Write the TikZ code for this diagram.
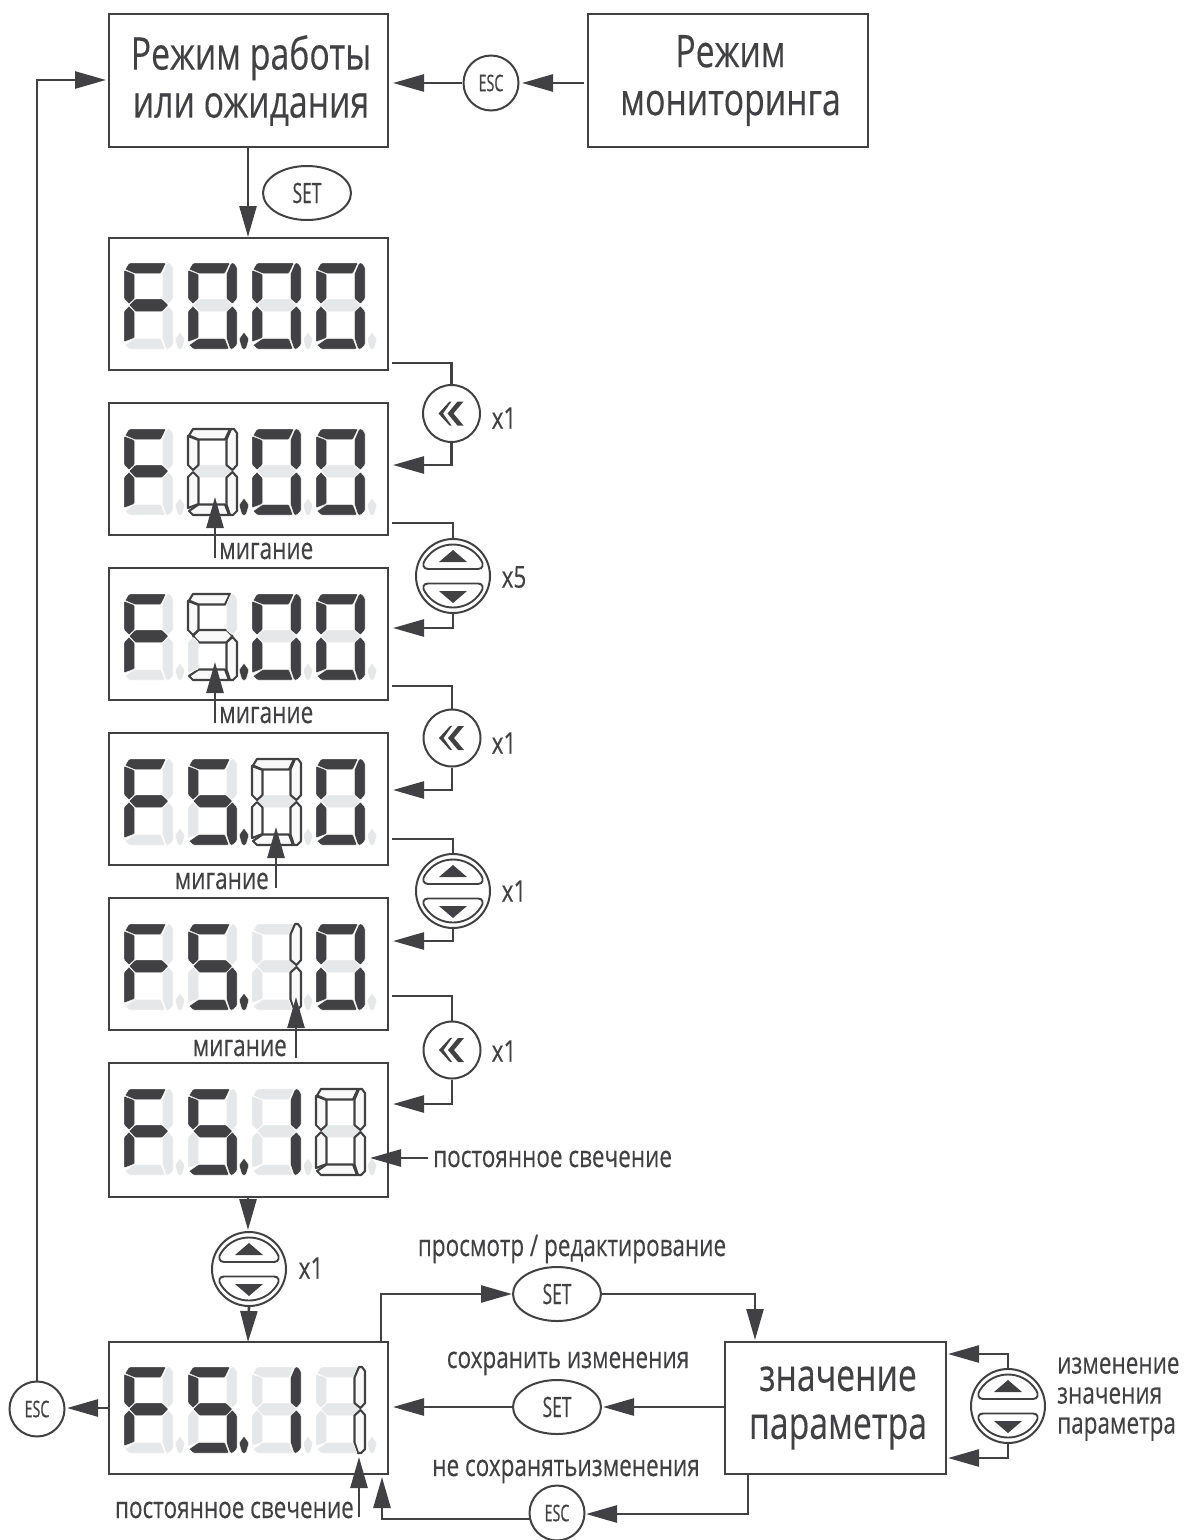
\documentclass[tikz,border=0pt]{standalone}
\usepackage{fontspec}
\usetikzlibrary{arrows.meta,shapes.geometric}
\setmainfont[FakeStretch=0.75,FakeBold=0.25]{Open Sans}
\newfontfamily\keyfont[FakeStretch=0.62,FakeBold=0.5]{Open Sans}
\definecolor{ink}{HTML}{414042}
\definecolor{pale}{HTML}{E6E7E8}
\newcommand\bl[1]{\hspace*{5pt}\raisebox{-3pt}{#1}}
\tikzset{
  sd/.style={fill=ink,draw=white,line width=0.4pt,rounded corners=1pt},
  sl/.style={fill=pale,draw=white,line width=0.4pt,rounded corners=1pt},
  so/.style={fill=white!97!ink,draw=ink,line width=2.1pt,line join=round},
  frame/.style={draw=ink,line width=2.8pt,rectangle,inner sep=0pt,text=ink,align=center,font=\fontsize{45}{48}\selectfont},
  disp/.style={frame,minimum width=279pt,minimum height=132pt},
  conn/.style={draw=ink,line width=2.6pt},
  arr/.style={conn,-{Triangle[length=31pt,width=17pt]}},
  lab/.style={text=ink,inner sep=0pt,font=\fontsize{30}{30}\selectfont},
  roundkey/.style={circle,draw=ink,line width=2pt,inner sep=0pt,minimum size=55pt,text=ink,font=\keyfont\fontsize{23}{24}\selectfont},
  ovalkey/.style={ellipse,draw=ink,line width=2pt,inner sep=0pt,minimum width=88pt,minimum height=54pt,text=ink,font=\keyfont\fontsize{28}{28}\selectfont},
}
% pos, a b c d e f g dp
\newcommand\dgt[9]{\begin{scope}[shift={(#1)}]
  \path[#8] (5,42)--(11,36)--(38.5,36)--(44.5,42)--(38.5,48.5)--(11,48.5)--cycle;
  \path[#2] (1,6.5)--(5,0)--(42,0)--(37,10.5)--(10.5,10.5)--cycle;
  \path[#3] (43,0)--(46,0)--(49,4)--(49,36)--(44.5,41)--(38.5,36)--(38.5,10.5)--cycle;
  \path[#4] (38.5,48.5)--(44.5,43)--(49,48)--(49,82)--(45,86)--(42,86)--(38.5,75.5)--cycle;
  \path[#5] (1,82)--(10.5,75.5)--(37,75.5)--(41,86)--(5,86)--cycle;
  \path[#6] (0,48)--(5,43)--(10.5,48.5)--(10.5,75)--(0,79)--cycle;
  \path[#7] (0,7)--(10.5,11)--(10.5,36)--(5,41)--(0,36)--cycle;
  \path[#9] (56,69)--(61,76)--(58,86)--(54,86)--(51,76)--cycle;
\end{scope}}
\newcommand\updown[2]{%
  \node[circle,draw=ink,line width=2pt,minimum size=74pt,inner sep=0pt] (#1) at (#2) {};
  \begin{scope}[shift={(#2)}]
  \draw[ink,line width=1.9pt] (-25,-7)--(25,-7) .. controls (30,-7) and (31,-12) .. (28,-16) .. controls (21,-27) and (10,-31.5) .. (0,-31.5) .. controls (-10,-31.5) and (-21,-27) .. (-28,-16) .. controls (-31,-12) and (-30,-7) .. (-25,-7) -- cycle;
  \draw[ink,line width=1.9pt] (-25,7.5)--(25,7.5) .. controls (30,7.5) and (31,12) .. (28,16) .. controls (21,27) and (10,31.5) .. (0,31.5) .. controls (-10,31.5) and (-21,27) .. (-28,16) .. controls (-31,12) and (-30,7.5) .. (-25,7.5) -- cycle;
  \fill[ink] (0,-26)--(14,-14)--(-14,-14)--cycle;
  \fill[ink] (0,27)--(14,15)--(-14,15)--cycle;
  \end{scope}}
\newcommand\chev[2]{%
  \node[circle,draw=ink,line width=2pt,minimum size=57pt,inner sep=0pt] (#1) at (#2) {};
  \begin{scope}[shift={(#2)}]
  \fill[ink] (-13,0)--(-2,-12)--(0,-12)--(-8.5,0)--(0,12)--(-2,12)--cycle;
  \fill[ink] (-4,0)--(6,-12)--(12,-12)--(2,0)--(12,12)--(6,12)--cycle;
  \end{scope}}
\begin{document}
\begin{tikzpicture}[x=1pt,y=-1pt]
\useasboundingbox (0,0) rectangle (1187,1540);
% boxes
\node[frame,minimum width=279pt,minimum height=133pt] (run) at (248.5,80.5) {\bl{Режим работы}\\\bl{или ожидания}};
\node[frame,minimum width=280pt,minimum height=133pt] (mon) at (728,80.5) {\bl{Режим}\\\bl{мониторинга}};
\node[disp] (d1) at (248.5,304) {};
\node[disp] (d2) at (248.5,469) {};
\node[disp] (d3) at (248.5,634) {};
\node[disp] (d4) at (248.5,799) {};
\node[disp] (d5) at (248.5,964) {};
\node[disp,minimum height=134pt] (d6) at (248.5,1130) {};
\node[disp] (d7) at (248.5,1408) {};
\node[frame,minimum width=221pt,minimum height=132pt] (val) at (835.5,1408) {\bl{значение}\\\bl{параметра}};
% digits
\dgt{124,263}{sd}{sl}{sl}{sl}{sd}{sd}{sd}{sl}
\dgt{188,263}{sd}{sd}{sd}{sd}{sd}{sd}{sl}{sd}
\dgt{252,263}{sd}{sd}{sd}{sd}{sd}{sd}{sl}{sl}
\dgt{316,263}{sd}{sd}{sd}{sd}{sd}{sd}{sl}{sl}
\dgt{124,429}{sd}{sl}{sl}{sl}{sd}{sd}{sd}{sl}
\dgt{188,429}{so}{so}{so}{so}{so}{so}{sl}{sd}
\dgt{252,429}{sd}{sd}{sd}{sd}{sd}{sd}{sl}{sl}
\dgt{316,429}{sd}{sd}{sd}{sd}{sd}{sd}{sl}{sl}
\dgt{124,594}{sd}{sl}{sl}{sl}{sd}{sd}{sd}{sl}
\dgt{188,594}{so}{sl}{so}{so}{sl}{so}{so}{sd}
\dgt{252,594}{sd}{sd}{sd}{sd}{sd}{sd}{sl}{sl}
\dgt{316,594}{sd}{sd}{sd}{sd}{sd}{sd}{sl}{sl}
\dgt{124,759}{sd}{sl}{sl}{sl}{sd}{sd}{sd}{sl}
\dgt{188,759}{sd}{sl}{sd}{sd}{sl}{sd}{sd}{sd}
\dgt{252,759}{so}{so}{so}{so}{so}{so}{sl}{sl}
\dgt{316,759}{sd}{sd}{sd}{sd}{sd}{sd}{sl}{sl}
\dgt{124,924}{sd}{sl}{sl}{sl}{sd}{sd}{sd}{sl}
\dgt{188,924}{sd}{sl}{sd}{sd}{sl}{sd}{sd}{sd}
\dgt{252,924}{sl}{so}{so}{sl}{sl}{sl}{sl}{sl}
\dgt{316,924}{sd}{sd}{sd}{sd}{sd}{sd}{sl}{sl}
\dgt{124,1089}{sd}{sl}{sl}{sl}{sd}{sd}{sd}{sl}
\dgt{188,1089}{sd}{sl}{sd}{sd}{sl}{sd}{sd}{sd}
\dgt{252,1089}{sl}{sd}{sd}{sl}{sl}{sl}{sl}{sl}
\dgt{316,1089}{so}{so}{so}{so}{so}{so}{sl}{sl}
\dgt{124,1367}{sd}{sl}{sl}{sl}{sd}{sd}{sd}{sl}
\dgt{188,1367}{sd}{sl}{sd}{sd}{sl}{sd}{sd}{sd}
\dgt{252,1367}{sl}{sd}{sd}{sl}{sl}{sl}{sl}{sl}
\dgt{316,1367}{sl}{so}{so}{sl}{sl}{sl}{sl}{sl}
% keys
\node[roundkey] (escTop) at (491,83) {ESC};
\node[ovalkey] (setTop) at (307,193) {SET};
\chev{k1}{451.5,413.5}
\updown{k2}{453,576}
\chev{k3}{452,738}
\updown{k4}{453,891}
\chev{k5}{452,1050}
\updown{k6}{249,1269}
\node[ovalkey] (setA) at (557,1294) {SET};
\node[ovalkey] (setB) at (557,1407) {SET};
\node[roundkey] (escB) at (557,1513) {ESC};
\node[roundkey] (escL) at (37,1409) {ESC};
\updown{k7}{1008,1406}
% repeat counts
\node[lab] (n1) at (504,418) {x1};
\node[lab] (n2) at (514,577) {x5};
\node[lab] (n3) at (504,743) {x1};
\node[lab] (n4) at (514,891) {x1};
\node[lab] (n5) at (504,1051) {x1};
\node[lab] (n6) at (311,1268) {x1};
% labels
\node[lab,anchor=base west] (m1) at (219,559) {мигание};
\node[lab,anchor=base west] (m2) at (219,723) {мигание};
\node[lab,anchor=base east] (m3) at (269,889) {мигание};
\node[lab,anchor=base east] (m4) at (287,1056) {мигание};
\node[lab,anchor=base west] (p1) at (433,1167) {постоянное свечение};
\node[lab,anchor=base east] (p2) at (354,1518) {постоянное свечение};
\node[lab,anchor=base] (t1) at (572,1256) {просмотр / редактирование};
\node[lab,anchor=base] (t2) at (568,1368) {сохранить изменения};
\node[lab,anchor=base] (t3) at (566,1476) {не сохранятьизменения};
\node[lab,anchor=west,align=left,font=\fontsize{30}{30}\selectfont] (t4) at (1057,1399) {изменение\\значения\\параметра};
% connector free ends
\coordinate (a1s) at (392,363); \coordinate (a1e) at (393,465);
\coordinate (a2s) at (392,523); \coordinate (a2e) at (393,628);
\coordinate (a3s) at (392,686); \coordinate (a3e) at (393,790);
\coordinate (a4s) at (392,839); \coordinate (a4e) at (393,941);
\coordinate (a5s) at (392,996); \coordinate (a5e) at (393,1104);
\coordinate (b1s) at (215,558); \coordinate (b1e) at (215,497);
\coordinate (b2s) at (215,723); \coordinate (b2e) at (215,662);
\coordinate (b3s) at (276,888); \coordinate (b3e) at (276,827);
\coordinate (b4s) at (296,1058); \coordinate (b4e) at (296,997);
\coordinate (c1s) at (428,1158); \coordinate (c1e) at (370,1158);
\coordinate (c2s) at (359,1517); \coordinate (c2e) at (359,1457);
\coordinate (u1) at (1008,1354); \coordinate (u1e) at (948,1354);
\coordinate (u2) at (1008,1458); \coordinate (u2e) at (948,1458);
\coordinate (e1) at (37,80); \coordinate (e1e) at (106,80);
\coordinate (g1) at (381,1342); \coordinate (g1m) at (381,1294);
\coordinate (g2) at (755,1294); \coordinate (g2e) at (755,1340);
\coordinate (h1) at (748,1474); \coordinate (h1m) at (748,1514);
\coordinate (h2) at (586,1514);
\coordinate (h3) at (530,1519); \coordinate (h3m) at (382,1519); \coordinate (h3e) at (382,1477);
\coordinate (i1) at (108,1408); \coordinate (i1e) at (67,1408);
\coordinate (r1) at (584,83); \coordinate (r1e) at (522,83);
\coordinate (r2) at (462,83); \coordinate (r2e) at (393,83);
\coordinate (s0) at (248,147); \coordinate (s0e) at (248,237);
\coordinate (s1) at (248,1197); \coordinate (s1e) at (248,1230);
\coordinate (s2e) at (248,1342);
\coordinate (v1) at (725,1407); \coordinate (v1e) at (603,1407);
\coordinate (v2) at (513,1407); \coordinate (v2e) at (393,1407);
% connectors
\draw[arr] (r1) -- (r1e);
\draw[arr] (r2) -- (r2e);
\draw[arr] (s0) -- (s0e);
\draw[conn] (a1s) -| (k1.north);
\draw[arr] (k1.south) |- (a1e);
\draw[conn] (a2s) -| (k2.north);
\draw[arr] (k2.south) |- (a2e);
\draw[conn] (a3s) -| (k3.north);
\draw[arr] (k3.south) |- (a3e);
\draw[conn] (a4s) -| (k4.north);
\draw[arr] (k4.south) |- (a4e);
\draw[conn] (a5s) -| (k5.north);
\draw[arr] (k5.south) |- (a5e);
\draw[arr] (b1s) -- (b1e);
\draw[arr] (b2s) -- (b2e);
\draw[arr] (b3s) -- (b3e);
\draw[arr] (b4s) -- (b4e);
\draw[arr] (c1s) -- (c1e);
\draw[arr] (c2s) -- (c2e);
\draw[arr] (s1) -- (s1e);
\draw[arr] (k6.south) -- (s2e);
\draw[arr] (i1) -- (i1e);
\draw[arr] (escL.north) |- (e1e);
\draw[arr] (g1) -- (g1m) -- (setA.west);
\draw[arr] (setA.east) -| (g2e);
\draw[arr] (v1) -- (v1e);
\draw[arr] (v2) -- (v2e);
\draw[arr] (h1) -- (h1m) -- (h2);
\draw[arr] (h3) -- (h3m) -- (h3e);
\draw[arr] (k7.north) |- (u1e);
\draw[arr] (k7.south) |- (u2e);
\end{tikzpicture}
\end{document}
